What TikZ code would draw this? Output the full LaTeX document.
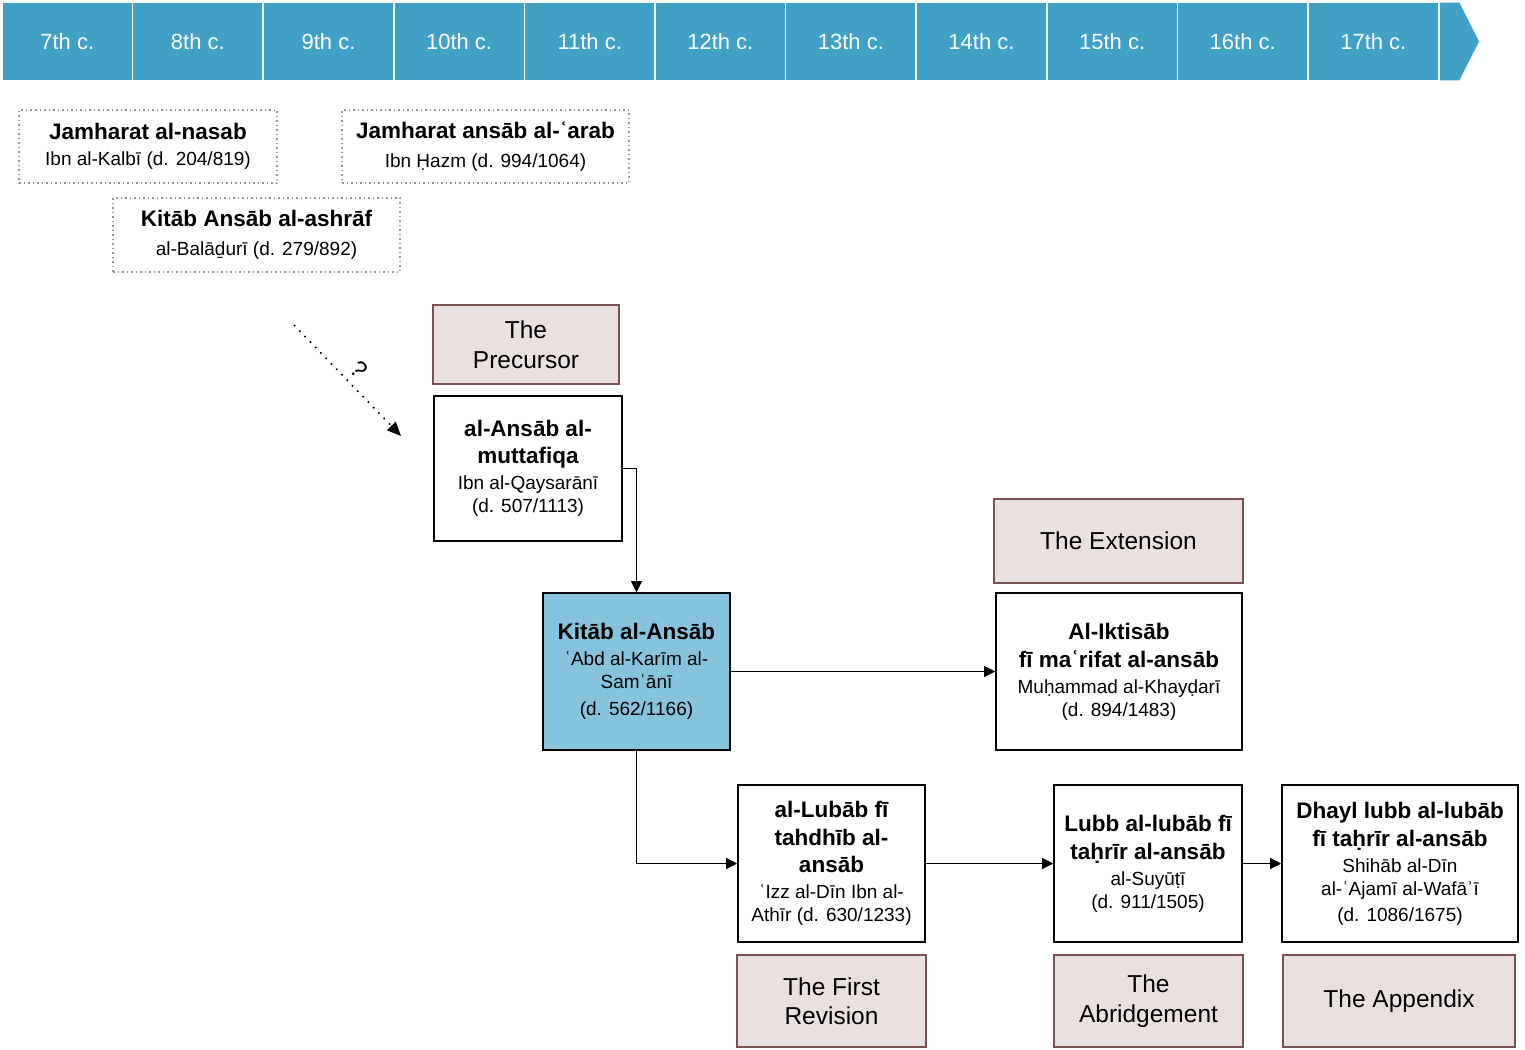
\documentclass[tikz,border=0pt]{standalone}
\usepackage{fontspec}
\setmainfont{Liberation Sans}
\usetikzlibrary{arrows.meta}

\definecolor{tlblue}{RGB}{65,160,197}
\definecolor{mainblue}{RGB}{134,195,220}
\definecolor{stagefill}{RGB}{235,224,224}
\definecolor{stageline}{RGB}{122,82,82}
\definecolor{dotgrey}{RGB}{150,150,150}

\begin{document}
\begin{tikzpicture}[x=1pt,y=-1pt,
  century/.style={draw=white,line width=1.5pt,fill=tlblue,minimum width=130.6pt,
    minimum height=79pt,text=white,font=\fontsize{22}{26}\selectfont},
  oldwork/.style={draw=dotgrey,dash pattern=on 1.5pt off 3pt,line width=1.4pt,
    align=center,inner sep=0pt,font=\fontsize{19}{23}\selectfont},
  work/.style={draw=black,line width=1.6pt,fill=white,align=center,inner sep=0pt,
    font=\fontsize{19}{23}\selectfont},
  stage/.style={draw=stageline,line width=1.6pt,fill=stagefill,align=center,
    inner sep=0pt,font=\fontsize{24.5}{29.5}\selectfont},
  link/.style={line width=1.1pt,-{Triangle[length=11pt,width=11pt]}}]

\newcommand\T[1]{{\fontsize{22.5}{27}\selectfont\bfseries #1}}

\useasboundingbox (0,0) rectangle (1525,1049);

%% timeline
\foreach \cent [count=\i from 0] in {7,...,17}
  \node[century] (c\cent) at ({2+130.6*(\i+0.5)},41.5) {\cent th c.};
\draw[draw=white,line width=1.5pt,fill=tlblue]
  (1439,2) -- (1460,2) -- (1480,41.5) -- (1460,81) -- (1439,81) -- cycle;

%% older works
\node[oldwork,minimum width=258pt,minimum height=73pt] (nasab) at (148,146.5)
  {\T{Jamharat al-nasab}\\[3pt]Ibn al-Kalbī (d. 204/819)};
\node[oldwork,minimum width=287pt,minimum height=73pt] (arab) at (485.5,146.5)
  {\T{Jamharat ansāb al-ʿarab}\\[6pt]Ibn Ḥazm (d. 994/1064)};
\node[oldwork,minimum width=287pt,minimum height=74pt] (ashraf) at (256.5,235)
  {\T{Kitāb Ansāb al-ashrāf}\\[6pt]al-Balāḏurī (d. 279/892)};

\coordinate (qs) at (294,325);
\coordinate (qe) at (401,436);
\draw[line width=1.6pt,dash pattern=on 1.6pt off 6pt,
  -{Triangle[length=14pt,width=12pt]}] (qs) -- node[sloped,above=4pt,
  font=\fontsize{24}{26}\selectfont] {?} (qe);

%% works
\node[stage,minimum width=186pt,minimum height=79pt] (precursor) at (526,344.5)
  {The\\Precursor};
\node[work,minimum width=188pt,minimum height=145pt] (muttafiqa) at (528,468.5)
  {\T{al-Ansāb al-}\\[4pt]\T{muttafiqa}\\[3pt]Ibn al-Qaysarānī\\(d. 507/1113)};
\node[work,fill=mainblue,minimum width=187pt,minimum height=157pt] (kitab) at (636.5,671.5)
  {\T{Kitāb al-Ansāb}\\[3pt]ʿAbd al-Karīm al-\\Samʿānī\\[4pt](d. 562/1166)};

\node[stage,minimum width=249pt,minimum height=84pt] (extension) at (1118.5,541)
  {The Extension};
\node[work,minimum width=246pt,minimum height=157pt] (iktisab) at (1119,671.5)
  {\T{Al-Iktisāb}\\[5pt]\T{fī maʿrifat al-ansāb}\\[3pt]Muḥammad al-Khayḍarī\\(d. 894/1483)};

\node[work,minimum width=187pt,minimum height=157pt] (lubab) at (831.5,863.5)
  {\T{al-Lubāb fī}\\[5pt]\T{tahdhīb al-}\\[4pt]\T{ansāb}\\[3pt]ʿIzz al-Dīn Ibn al-\\Athīr (d. 630/1233)};
\node[stage,minimum width=189pt,minimum height=92pt] (revision) at (831.5,1001)
  {The First\\Revision};

\node[work,minimum width=188pt,minimum height=157pt] (lubb) at (1148,863.5)
  {\T{Lubb al-lubāb fī}\\[5pt]\T{taḥrīr al-ansāb}\\[3pt]al-Suyūṭī\\(d. 911/1505)};
\node[stage,minimum width=189pt,minimum height=92pt] (abridgement) at (1148.5,1001)
  {The\\Abridgement};

\node[work,minimum width=236pt,minimum height=157pt] (dhayl) at (1400,863.5)
  {\T{Dhayl lubb al-lubāb}\\[5pt]\T{fī taḥrīr al-ansāb}\\[3pt]Shihāb al-Dīn\\al-ʿAjamī al-Wafāʾī\\[3pt](d. 1086/1675)};
\node[stage,minimum width=232pt,minimum height=92pt] (appendix) at (1399,1001)
  {The Appendix};

%% links
\draw[link] (muttafiqa.east) -| (kitab.north);
\draw[link] (kitab.east) -- (iktisab.west);
\draw[link] (kitab.south) |- (lubab.west);
\draw[link] (lubab.east) -- (lubb.west);
\draw[link] (lubb.east) -- (dhayl.west);

\end{tikzpicture}
\end{document}
